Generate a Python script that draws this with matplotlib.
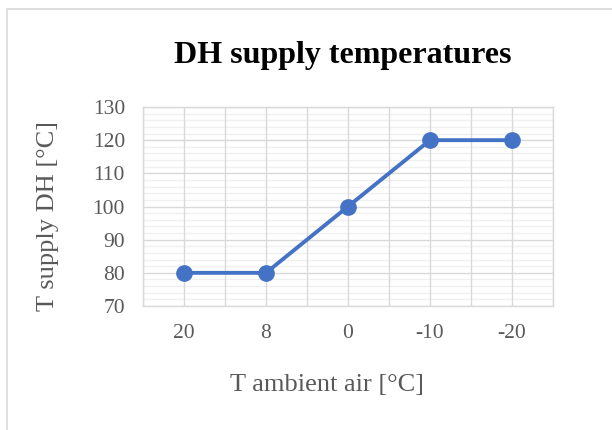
import matplotlib.pyplot as plt
import numpy as np
from matplotlib.patches import Rectangle

plt.rcParams['font.family'] = ['Liberation Serif', 'DejaVu Serif']

categories = ['20', '8', '0', '-10', '-20']
supply_temp = [80, 80, 100, 120, 120]

W, H = 612, 430
fig = plt.figure(figsize=(W / 100, H / 100), dpi=100)

# chart-area border (cut off at right/bottom like the screenshot)
fig.patches.append(Rectangle((7 / W, -0.1), 2, 1 - 9 / H + 0.1,
                             transform=fig.transFigure, fill=False,
                             edgecolor='#d9d9d9', linewidth=1.2))

ax = fig.add_axes([143 / W, 1 - 306 / H, (553 - 143) / W, (306 - 107) / H])

x = np.arange(len(categories))
ax.set_xlim(-0.5, len(categories) - 0.5)
ax.set_ylim(70, 130)

# minor horizontal grid every 2, major every 10
for v in np.arange(70, 131, 2):
    if v % 10:
        ax.axhline(v, color='#f0f0f0', linewidth=1.0, zorder=0)
for v in np.arange(70, 131, 10):
    ax.axhline(v, color='#d9d9d9', linewidth=1.0, zorder=1)
for v in np.arange(-0.5, len(categories), 0.5):
    ax.axvline(v, color='#d9d9d9', linewidth=1.0, zorder=1)

ax.plot(x, supply_temp, color='#4472c4', linewidth=2.8, marker='o',
        markersize=11, zorder=3, clip_on=False)

ax.set_xticks(x)
ax.set_xticklabels(categories)
ax.set_yticks(np.arange(70, 131, 10))
ax.tick_params(length=0, labelsize=15.5, colors='#595959')
ax.tick_params(axis='x', pad=13)
ax.tick_params(axis='y', pad=13)
for s in ax.spines.values():
    s.set_color('#d9d9d9')
    s.set_linewidth(1.0)

fig.text(327 / W, 1 - 385 / H, 'T ambient air [°C]', ha='center', va='center',
         fontsize=19, color='#595959')
fig.text(48 / W, 1 - 216 / H, 'T supply DH [°C]', ha='center', va='center',
         rotation=90, fontsize=19, color='#595959')
fig.text(343 / W, 1 - 55 / H, 'DH supply temperatures', ha='center', va='center',
         fontsize=23, fontweight='bold', color='black')

fig.savefig('out.png', dpi=100)
